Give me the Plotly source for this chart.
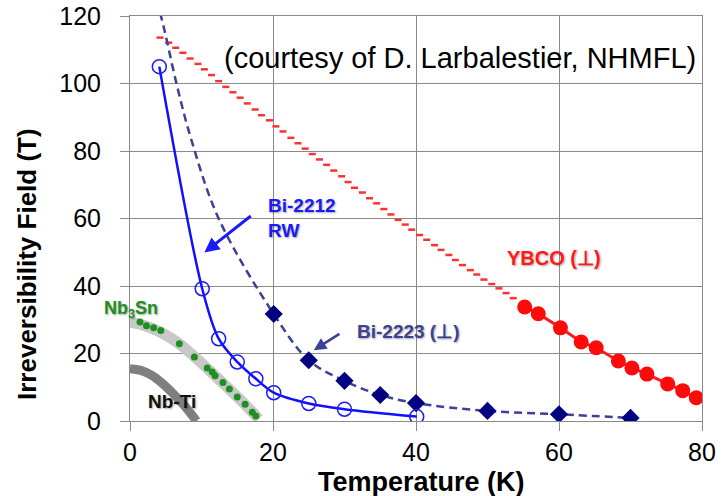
import plotly.graph_objects as go

# ---------------- data ----------------
# Bi-2212 RW (open circles, solid line)
bi2212_T = [4.1, 10.1, 12.4, 15.0, 17.6, 20.1, 25.0, 30.0, 40.1]
bi2212_B = [105.0, 39.2, 24.4, 17.5, 12.5, 8.4, 5.2, 3.5, 1.3]

# Bi-2223 (filled diamonds)
bi2223_T = [20.1, 25.0, 30.0, 35.0, 40.0, 50.0, 60.0, 70.0]
bi2223_B = [31.7, 18.0, 11.9, 7.7, 5.3, 3.0, 2.0, 0.9]
# Bi-2223 dashed fit curve
bi2223_fit_T = [4.2, 4.8, 6.5, 8.5, 12.4, 20.1, 25.0, 30.0, 35.0, 40.0, 50.0, 60.0, 70.0]
bi2223_fit_B = [121.0, 116.0, 100.0, 83.9, 60.0, 31.7, 18.0, 11.9, 7.7, 5.3, 3.0, 2.0, 0.9]

# YBCO high-field points (short red dashes)
ybco_hf_T = [4.2, 5.4, 6.4, 7.4, 8.4, 9.5, 10.4, 11.4, 12.4, 13.4, 14.4, 15.4, 16.4, 17.5,
             18.4, 19.5, 20.4, 21.4, 22.5, 23.5, 24.5, 25.5, 26.5, 27.5, 28.5, 29.6, 30.5,
             31.4, 32.5, 33.5, 34.5, 35.5, 36.5, 37.5, 38.5, 39.4, 40.5, 41.5, 42.6, 43.5,
             44.6, 45.5, 46.5, 47.6, 48.5, 49.5, 50.6, 51.6, 52.6, 53.6]
ybco_hf_B = [113.6, 112.1, 110.6, 109.1, 107.4, 105.8, 104.2, 102.5, 100.7, 99.0, 97.4, 95.8,
             94.1, 92.3, 90.6, 89.1, 87.3, 85.8, 83.9, 82.3, 80.7, 79.1, 77.5, 75.9, 74.2,
             72.5, 70.8, 69.1, 67.7, 66.0, 64.5, 62.8, 61.2, 59.6, 58.2, 56.7, 55.1, 53.7,
             52.1, 50.7, 49.2, 47.7, 46.2, 44.7, 43.4, 41.9, 40.6, 39.3, 37.9, 36.4]
# YBCO low-field points (big red circles)
ybco_T = [55.2, 57.1, 60.2, 63.1, 65.2, 68.3, 70.2, 72.3, 75.2, 77.3, 79.2]
ybco_B = [33.8, 31.8, 27.6, 23.4, 21.7, 17.8, 15.7, 13.9, 11.0, 9.0, 6.9]

# Nb3Sn band and dots
nb3sn_band_T = [0, 2, 4, 6, 8, 10, 12, 14, 16, 18]
nb3sn_band_B = [29.3, 28.3, 26.6, 24.2, 21.0, 17.2, 13.2, 9.2, 5.1, 0.6]
nb3sn_T = [1.4, 2.3, 3.3, 4.3, 6.9, 9.0, 10.8, 11.5, 11.9, 13.0, 13.9, 15.0, 16.1, 17.1, 17.6]
nb3sn_B = [29.3, 28.2, 27.6, 26.8, 22.9, 19.0, 15.7, 14.5, 13.4, 11.4, 9.5, 7.1, 5.0, 2.6, 1.5]

# Nb-Ti band
nbti_T = [0, 1.5, 3.0, 4.5, 6.0, 7.5, 9.3]
nbti_B = [15.5, 15.0, 13.6, 11.2, 8.2, 4.8, 0.0]

x_ticks = [0, 20, 40, 60, 80]
y_ticks = [0, 20, 40, 60, 80, 100, 120]

FONT = "Liberation Sans, Arial, sans-serif"
SHADOW = "1px 1px 2px rgba(0,0,0,0.35)"
W, H = 725, 496

fig = go.Figure()

# Nb-Ti band
fig.add_trace(go.Scatter(x=nbti_T, y=nbti_B, mode="lines", line=dict(color="#7f7f7f", width=9, shape="spline"),
                         hoverinfo="skip", showlegend=False))
# Nb3Sn band + dots
fig.add_trace(go.Scatter(x=nb3sn_band_T, y=nb3sn_band_B, mode="lines",
                         line=dict(color="#c8c8c8", width=11, shape="spline"), showlegend=False))
fig.add_trace(go.Scatter(x=nb3sn_T, y=nb3sn_B, mode="markers",
                         marker=dict(color="#1f8f1f", size=7), showlegend=False))

# YBCO
fig.add_trace(go.Scatter(x=ybco_hf_T, y=ybco_hf_B, mode="markers",
                         marker=dict(symbol="line-ew", size=5, line=dict(color="#ff3030", width=2.5)),
                         showlegend=False))
fig.add_trace(go.Scatter(x=ybco_T + [80.5], y=ybco_B + [6.4], mode="lines",
                         line=dict(color="#ff1a1a", width=3), showlegend=False))
fig.add_trace(go.Scatter(x=ybco_T, y=ybco_B, mode="markers",
                         marker=dict(color="#ff0a0a", size=15), showlegend=False))

# Bi-2223
fig.add_trace(go.Scatter(x=bi2223_fit_T, y=bi2223_fit_B, mode="lines",
                         line=dict(color="#3c4196", width=2.5, dash="8px,5px", shape="spline", smoothing=1.0),
                         showlegend=False))
fig.add_trace(go.Scatter(x=bi2223_T, y=bi2223_B, mode="markers",
                         marker=dict(symbol="diamond", color="#000080", size=14), showlegend=False))

# Bi-2212
fig.add_trace(go.Scatter(x=bi2212_T, y=bi2212_B, mode="lines",
                         line=dict(color="#1010ff", width=2.5, shape="spline", smoothing=0.9), showlegend=False))
fig.add_trace(go.Scatter(x=bi2212_T, y=bi2212_B, mode="markers",
                         marker=dict(symbol="circle-open", color="#1a1aff", size=14, line=dict(width=1.5)),
                         showlegend=False))

lab = dict(family=FONT, size=19, shadow=SHADOW)
annotations = [
    dict(x=19.0, y=60.1, text="<b>Bi-2212<br>RW</b>", xanchor="left", align="left", showarrow=False,
         font=dict(lab, color="#1a1aff")),
    dict(x=10.4, y=49.9, ax=17.1, ay=61.1, axref="x", ayref="y", text="", showarrow=True,
         arrowhead=2, arrowsize=1, arrowwidth=3, arrowcolor="#1a1aff"),
    dict(x=39.0, y=26.4, text="<b>Bi-2223 (⊥)</b>", showarrow=False, font=dict(lab, color="#3c4196")),
    dict(x=25.7, y=21.0, ax=29.5, ay=26.1, axref="x", ayref="y", text="", showarrow=True,
         arrowhead=2, arrowsize=1, arrowwidth=2.5, arrowcolor="#3c4196"),
    dict(x=59.3, y=48.4, text="<b>YBCO (⊥)</b>", showarrow=False, font=dict(lab, size=20, color="#ff1a1a")),
    dict(x=0.1, y=32.9, text="<b>Nb<sub>3</sub>Sn</b>", showarrow=False, font=dict(lab, size=18, color="#1f8f1f")),
    dict(x=5.9, y=5.9, text="<b>Nb-Ti</b>", showarrow=False, font=dict(lab, color="#111111")),
    dict(x=46.1, y=107.7, text="(courtesy of D. Larbalestier, NHMFL)", showarrow=False,
         font=dict(family=FONT, size=29, color="black")),
    # axis titles
    dict(xref="paper", yref="paper", x=(421 - 130) / (W - 130 - 23), y=-(482 - 421) / (421 - 16),
         text="<b>Temperature (K)</b>", showarrow=False, xanchor="center", yanchor="middle",
         font=dict(family=FONT, size=27, color="black")),
    dict(xref="paper", yref="paper", x=-(130 - 27) / (W - 130 - 23), y=(421 - 264) / (421 - 16),
         text="<b>Irreversibility Field (T)</b>", showarrow=False, textangle=-90,
         xanchor="center", yanchor="middle",
         font=dict(family=FONT, size=26, color="black")),
]

axis_common = dict(showgrid=True, gridcolor="#8a8a8a", gridwidth=1, zeroline=False,
                   showline=True, linecolor="#8a8a8a", linewidth=1, mirror=True,
                   ticks="outside", ticklen=9, tickcolor="#8a8a8a", automargin=False,
                   tickfont=dict(family=FONT, size=25, color="black"))

fig.update_layout(
    width=W, height=H,
    margin=dict(l=130, r=23, t=16, b=75),
    paper_bgcolor="white", plot_bgcolor="white",
    font=dict(family=FONT),
    xaxis=dict(axis_common, range=[0, 80], tickvals=x_ticks),
    yaxis=dict(axis_common, range=[0, 120], tickvals=y_ticks, ticklabelstandoff=14),
    annotations=annotations,
    showlegend=False,
)

fig.write_html("out.html", config={"displayModeBar": False},
               post_script="document.body.style.margin='0';document.body.style.overflow='hidden';")
